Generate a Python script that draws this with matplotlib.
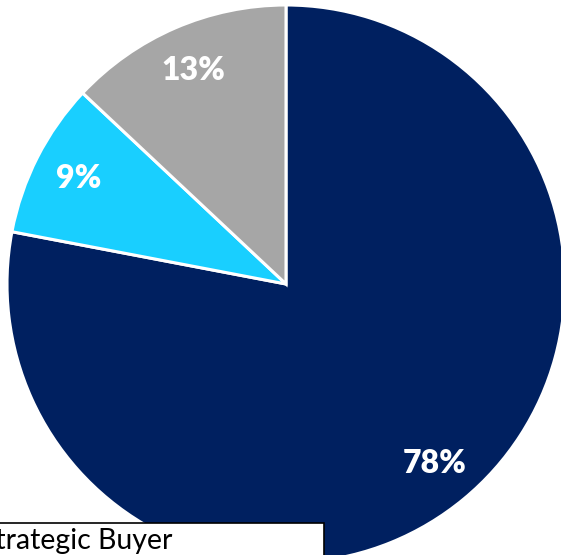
import matplotlib
matplotlib.use('Agg')
import matplotlib.pyplot as plt
from matplotlib.patches import Rectangle

plt.rcParams['font.family'] = ['Lato', 'DejaVu Sans']

labels = ['Strategic Buyer', 'Financial Buyer', 'Other']
values = [78, 9, 13]
colors = ['#002060', '#19CFFF', '#A6A6A6']

W, H = 561, 555
fig = plt.figure(figsize=(W / 100, H / 100), dpi=100)

# pie centre (286, 284) px from top-left, radius 279 px
cx, cy, r = 286, 284, 279
ax = fig.add_axes([(cx - r) / W, 1 - (cy + r) / H, 2 * r / W, 2 * r / H])
wedges, texts, autotexts = ax.pie(values, colors=colors, startangle=90, counterclock=False,
                                  autopct='%1.0f%%', pctdistance=0.835, radius=1,
                                  wedgeprops=dict(edgecolor='white', linewidth=2.2),
                                  textprops=dict(color='white', fontsize=23, fontweight='heavy'))
ax.set_xlim(-1, 1)
ax.set_ylim(-1, 1)
ax.axis('off')

# legend box, cropped at left and bottom
fig.patches.append(Rectangle((-60 / W, -40 / H), (324 + 60) / W, (H - 523 + 40) / H,
                             transform=fig.transFigure, facecolor='white',
                             edgecolor='black', linewidth=1.2, zorder=5))
fig.text(172 / W, 1 - 549 / H, labels[0], ha='right', va='baseline', fontsize=20.5,
         color='black', zorder=6)

fig.savefig('out.png', dpi=100)
